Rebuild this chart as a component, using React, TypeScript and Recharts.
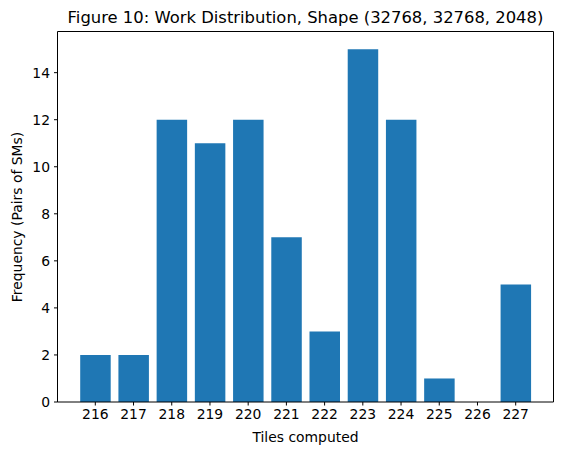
import React from "react";
import { BarChart, Bar, XAxis, YAxis } from "recharts";

const tiles = ["216", "217", "218", "219", "220", "221", "222", "223", "224", "225", "226", "227"];
const frequency = [2, 2, 12, 11, 12, 7, 3, 15, 12, 1, 0, 5];
const yTicks = [0, 2, 4, 6, 8, 10, 12, 14];

const data = tiles.map((t, i) => ({ tile: t, freq: frequency[i] }));

const font = "'DejaVu Sans', sans-serif";
const tickStyle = { fill: "#000", fontSize: 13.9, fontFamily: font };

const App: React.FC = () => {
  return (
    <div style={{ position: "relative", width: 554, height: 447 }}>
      <div
        style={{
          position: "absolute",
          left: 49.5,
          width: 496,
          top: 0,
          textAlign: "center",
          fontFamily: font,
          fontSize: 16.4,
          lineHeight: "20px",
        }}
      >
        Figure 10: Work Distribution, Shape (32768, 32768, 2048)
      </div>
      <BarChart
        width={554}
        height={447}
        data={data}
        margin={{ top: 22.5, right: 7.5, left: 9.5, bottom: 23 }}
      >
        <XAxis
          dataKey="tile"
          xAxisId="bottom"
          padding={{ left: 18.7, right: 18.7 }}
          tick={tickStyle}
          tickSize={3.5}
          tickMargin={4}
          height={30}
          stroke="#000"
          interval={0}
        />
        <XAxis
          dataKey="tile"
          xAxisId="top"
          orientation="top"
          tick={false}
          tickLine={false}
          height={1}
          stroke="#000"
        />
        <YAxis
          yAxisId="left"
          domain={[0, 15.75]}
          ticks={yTicks}
          tick={tickStyle}
          tickSize={3.5}
          tickMargin={4}
          width={40}
          stroke="#000"
          allowDataOverflow
        />
        <YAxis
          yAxisId="right"
          orientation="right"
          domain={[0, 15.75]}
          tick={false}
          tickLine={false}
          width={1}
          stroke="#000"
        />
        <Bar
          dataKey="freq"
          xAxisId="bottom"
          yAxisId="left"
          fill="#1f77b4"
          barSize={30.5}
          isAnimationActive={false}
        />
      </BarChart>
      <div
        style={{
          position: "absolute",
          left: 49.5,
          width: 496,
          top: 420,
          textAlign: "center",
          fontFamily: font,
          fontSize: 13.9,
          lineHeight: "18px",
        }}
      >
        Tiles computed
      </div>
      <div
        style={{
          position: "absolute",
          left: 9,
          top: 209,
          width: 0,
          height: 0,
        }}
      >
        <div
          style={{
            position: "absolute",
            transform: "translate(-50%, -50%) rotate(-90deg)",
            whiteSpace: "nowrap",
            fontFamily: font,
            fontSize: 13.9,
            lineHeight: "18px",
          }}
        >
          Frequency (Pairs of SMs)
        </div>
      </div>
    </div>
  );
};

export default App;
